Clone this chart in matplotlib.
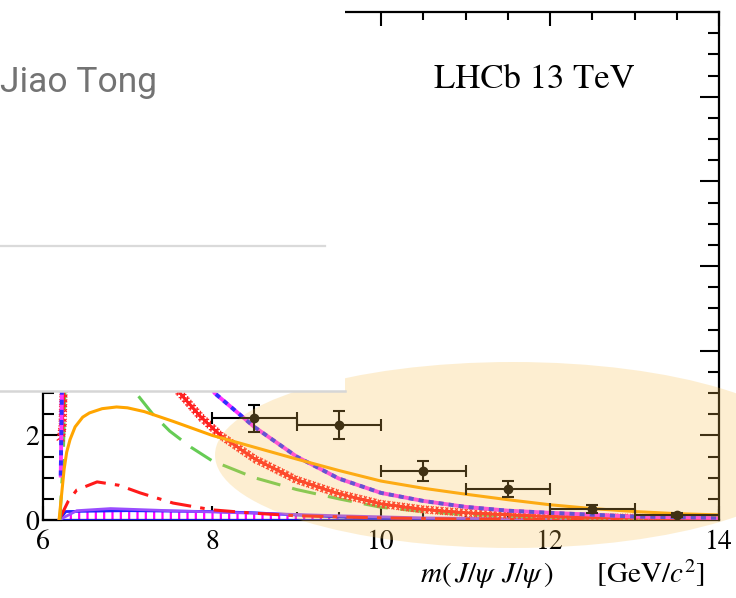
import matplotlib
matplotlib.use("Agg")
import matplotlib.pyplot as plt
from matplotlib.ticker import MultipleLocator
from matplotlib.patches import Ellipse, Rectangle
from matplotlib.lines import Line2D
import matplotlib.patheffects as pe

# ---------------- data ----------------
orange_x = [6.19, 6.22, 6.25, 6.28, 6.32, 6.38, 6.47, 6.55, 6.7, 6.87, 7.0, 7.2, 7.54,
            8.0, 8.5, 9.0, 9.5, 10.0, 10.5, 11.0, 11.5, 12.0, 12.5, 13.0, 13.5, 14.0]
orange_y = [0.0, 0.6, 1.2, 1.6, 1.9, 2.2, 2.43, 2.53, 2.63, 2.67, 2.65, 2.56, 2.33,
            2.0, 1.72, 1.44, 1.17, 0.92, 0.75, 0.61, 0.48, 0.36, 0.27, 0.2, 0.15, 0.12]

green_x = [6.2, 6.24, 6.27, 6.35, 6.5, 6.8, 7.1, 7.3, 7.5, 7.75, 8.0, 8.5, 9.0, 9.5,
           10.0, 10.5, 11.0, 12.0, 13.0, 14.0]
green_y = [0.0, 1.5, 4.0, 6.0, 6.5, 4.5, 3.0, 2.5, 2.1, 1.72, 1.4, 1.0, 0.72, 0.5,
           0.3, 0.2, 0.13, 0.06, 0.03, 0.02]

redx_x = [6.21, 6.23, 6.26, 6.35, 6.6, 7.0, 7.4, 7.62, 7.86, 8.1, 8.5, 9.0, 9.5,
          10.0, 10.5, 11.0, 12.0, 13.0, 14.0]
redx_y = [1.9, 2.2, 4.0, 6.0, 6.5, 5.0, 3.6, 3.0, 2.45, 2.0, 1.45, 0.95, 0.62,
          0.38, 0.25, 0.17, 0.08, 0.05, 0.03]

bm_x = [6.21, 6.23, 6.3, 6.5, 7.0, 7.5, 8.03, 8.5, 9.0, 9.5, 10.0, 10.5, 11.0,
        11.5, 12.0, 13.0, 14.0]
bm_y = [1.05, 4.0, 7.0, 8.5, 7.0, 4.8, 3.0, 2.2, 1.5, 0.98, 0.64, 0.45, 0.31,
        0.22, 0.17, 0.08, 0.05]

rdd_x = [6.19, 6.3, 6.4, 6.64, 6.9, 7.15, 7.54, 8.0, 8.5, 9.0, 10.0, 11.0, 12.0, 14.0]
rdd_y = [0.0, 0.45, 0.71, 0.9, 0.82, 0.64, 0.4, 0.24, 0.16, 0.1, 0.05, 0.02, 0.01, 0.0]

purple_x = [6.19, 6.4, 6.8, 7.5, 8.5, 9.5, 10.5, 12.0, 14.0]
purple_y = [0.0, 0.22, 0.27, 0.22, 0.16, 0.1, 0.05, 0.02, 0.01]

blue_x = [6.19, 6.27, 7.0, 8.0, 8.5, 9.0, 9.5, 10.0, 11.0, 12.0, 14.0]
blue_y = [0.0, 0.2, 0.22, 0.2, 0.17, 0.12, 0.07, 0.04, 0.02, 0.01, 0.01]

pt_x = [8.5, 9.5, 10.5, 11.5, 12.5, 13.5]
pt_y = [2.4, 2.24, 1.15, 0.74, 0.26, 0.12]
pt_yerr = [0.32, 0.33, 0.24, 0.19, 0.1, 0.04]
pt_xerr = [0.5, 0.5, 0.5, 0.5, 0.5, 0.5]

x_ticks = [6, 8, 10, 12, 14]
x_tick_labels = ['6', '8', '10', '12', '14']
y_ticks = [0, 2, 4, 6, 8, 10, 12]
y_tick_labels = ['0', '2', '', '', '', '', '']   # higher labels are hidden in the picture

# ---------------- figure ----------------
plt.rcParams['mathtext.fontset'] = 'stix'
plt.rcParams['font.family'] = ['STIXGeneral', 'DejaVu Serif']
plt.rcParams['hatch.linewidth'] = 1.6

W, H = 736, 598
fig = plt.figure(figsize=(W / 100, H / 100), dpi=100)
ax = fig.add_axes([43 / W, 78 / H, 676 / W, 508 / H])
ax.set_xlim(6, 14)
ax.set_ylim(0, 12)

# hatched band + blue solid
ax.fill_between(blue_x, 0, blue_y, facecolor='white', edgecolor='#ff00ff',
                hatch='||', linewidth=0, zorder=2)
ax.plot(blue_x, [0] * len(blue_x), color='#2020ff', lw=2.0, zorder=3)
ax.plot(blue_x, blue_y, color='#2020ff', lw=2.0, zorder=3)
ax.plot(purple_x, purple_y, color='#9a4dff', lw=2.0, zorder=3)

ax.plot(rdd_x, rdd_y, color='#ff1a1a', lw=2.2, dashes=(7, 3, 1.5, 3), zorder=4)
ax.plot(green_x, green_y, color='#66cc55', lw=2.2, dashes=(8, 4), zorder=4)

tick_fx = [pe.withTickedStroke(spacing=3.5, angle=a, length=1.0, linewidth=0.9,
                               foreground='#ff2020') for a in (45, 135, -45, -135)]
ax.plot(redx_x, redx_y, color='#ff2020', lw=1.5, zorder=5,
        path_effects=tick_fx + [pe.Normal()])

ax.plot(bm_x, bm_y, color='#ff33ff', lw=2.8, zorder=5)
ax.plot(bm_x, bm_y, color='#3030ff', lw=2.8, dashes=(1.3, 1.3), zorder=6)

ax.plot(orange_x, orange_y, color='#ffa500', lw=2.2, zorder=6)

ax.errorbar(pt_x, pt_y, xerr=pt_xerr, yerr=pt_yerr, fmt='o', color='black',
            ms=6, lw=1.5, capsize=4, capthick=1.5, zorder=7)

# axes style
for s in ax.spines.values():
    s.set_linewidth(1.6)
ax.xaxis.set_minor_locator(MultipleLocator(0.5))
ax.yaxis.set_minor_locator(MultipleLocator(0.5))
ax.set_xticks(x_ticks)
ax.set_xticklabels(x_tick_labels)
ax.set_yticks(y_ticks)
ax.set_yticklabels(y_tick_labels)
ax.tick_params(which='both', direction='in', top=True, right=True, width=1.5)
ax.tick_params(axis='x', which='major', length=10, labelsize=20, pad=7)
ax.tick_params(axis='x', which='minor', length=6)
ax.tick_params(axis='y', which='major', length=14, labelsize=20, pad=3)
ax.tick_params(axis='y', which='minor', length=8)

ax.set_xlabel(r'$m(\,J/\psi\;\,J/\psi\,)$' + '      ' + r'$\left[\mathrm{GeV}/c^2\right]$',
              fontsize=21, ha='right', va='baseline')
ax.xaxis.set_label_coords(662 / 676, -63 / 508)

ax.text((534 - 43) / 676, (520 - 88) / 508, 'LHCb 13 TeV', transform=ax.transAxes,
        ha='center', va='baseline', fontsize=25, family='STIXGeneral')

# overlays
ell = Ellipse((513 / W, 1 - 455 / H), 2 * 298 / W, 2 * 93 / H, transform=fig.transFigure,
              facecolor=(248 / 255, 192 / 255, 80 / 255), alpha=0.26, edgecolor='none',
              zorder=1)
fig.add_artist(ell)

panel = Rectangle((0, 1 - 391 / H), 345 / W, 391 / H, transform=fig.transFigure,
                  facecolor='white', edgecolor='none', zorder=2)
fig.add_artist(panel)
fig.add_artist(Line2D([0, 325 / W], [1 - 246 / H] * 2, transform=fig.transFigure,
                      color='#dadada', lw=1.6, zorder=2.5))
fig.add_artist(Line2D([0, 345 / W], [1 - 391 / H] * 2, transform=fig.transFigure,
                      color='#d6d6d6', lw=1.8, zorder=2.5))
fig.text(0.0, 1 - 92 / H, 'Jiao Tong', family=['Roboto', 'DejaVu Sans'], fontsize=25.5,
         color='#737373', ha='left', va='baseline', zorder=3)

fig.savefig('out.png', dpi=100)
